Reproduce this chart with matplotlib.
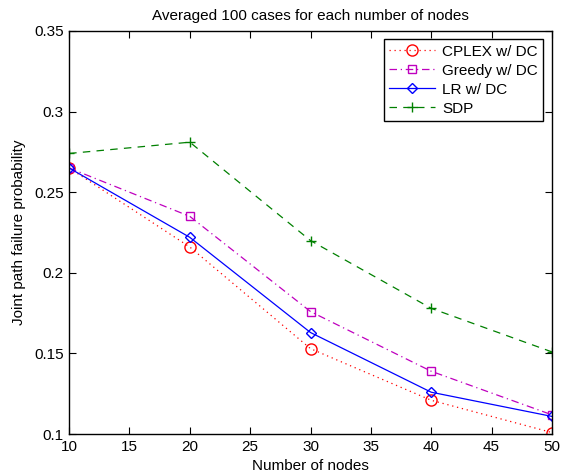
import numpy as np
import matplotlib
matplotlib.use('Agg')
import matplotlib.pyplot as plt

plt.rcParams['font.family'] = ['Liberation Sans', 'DejaVu Sans']

nodes = [10, 20, 30, 40, 50]
cplex = [0.265, 0.216, 0.153, 0.121, 0.101]
greedy = [0.265, 0.235, 0.176, 0.139, 0.112]
lr = [0.265, 0.222, 0.163, 0.126, 0.111]
sdp = [0.274, 0.281, 0.220, 0.178, 0.151]

fig = plt.figure(figsize=(5.62, 4.75), dpi=100)
ax = fig.add_axes([0.123, 0.086, 0.859, 0.849])

ax.plot(nodes, cplex, color='red', linestyle=(0, (1, 3)), marker='o', markersize=8,
        markerfacecolor='none', linewidth=0.9, label='CPLEX w/ DC')
ax.plot(nodes, greedy, color='m', linestyle=(0, (6, 3, 1, 3)), marker='s', markersize=6,
        markerfacecolor='none', linewidth=0.9, label='Greedy w/ DC')
ax.plot(nodes, lr, color='blue', linestyle='-', marker='D', markersize=5.5,
        markerfacecolor='none', linewidth=0.9, label='LR w/ DC')
ax.plot(nodes, sdp, color='green', linestyle=(0, (6, 5)), marker='+', markersize=7,
        linewidth=0.9, label='SDP')

ax.set_xlim(10, 50)
ax.set_ylim(0.1, 0.35)
ax.set_xticks(np.arange(10, 51, 5))
ax.set_yticks([0.1, 0.15, 0.2, 0.25, 0.3, 0.35])
ax.set_yticklabels(['0.1', '0.15', '0.2', '0.25', '0.3', '0.35'])
ax.tick_params(direction='in', top=True, right=True, labelsize=11, length=5, pad=4)
for s in ax.spines.values():
    s.set_linewidth(1)

ax.set_xlabel('Number of nodes', fontsize=11, labelpad=4)
ax.set_ylabel('Joint path failure probability', fontsize=11, labelpad=6)
ax.set_title('Averaged 100 cases for each number of nodes', fontsize=11, pad=8)

leg = ax.legend(loc='upper right', fontsize=11, fancybox=False, edgecolor='black',
                framealpha=1, borderaxespad=0.55, handlelength=3.0, labelspacing=0.33,
                borderpad=0.35, handletextpad=0.5)
leg.get_frame().set_linewidth(1)

plt.savefig('out.png', dpi=100)
